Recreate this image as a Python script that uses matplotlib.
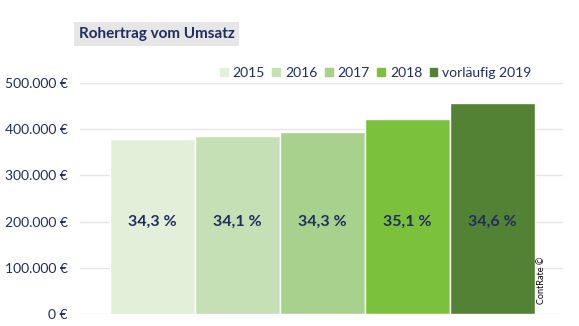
import matplotlib.pyplot as plt
from matplotlib.ticker import FuncFormatter

plt.rcParams['font.family'] = ['Lato', 'DejaVu Sans']

years = ['2015', '2016', '2017', '2018', 'vorläufig 2019']
rohertrag = [378000, 385000, 394000, 422000, 457000]
quote = ['34,3 %', '34,1 %', '34,3 %', '35,1 %', '34,6 %']
colors = ['#e2f0d9', '#c5e0b4', '#a9d18e', '#7cc13b', '#548235']
navy = '#1f2d5f'

fig = plt.figure(figsize=(5.79, 3.26), dpi=100)
ax = fig.add_axes([80 / 579, 12 / 326, 483 / 579, 231 / 326])

xs = range(len(years))
bars = ax.bar(xs, rohertrag, width=1.0, color=colors, edgecolor='white',
              linewidth=1.0, zorder=2)
for x, lab in zip(xs, quote):
    ax.text(x, 200000, lab, ha='center', va='center', fontsize=11.5,
            fontweight='bold', color=navy, zorder=3)

ax.set_xlim(-0.85, 4.83)
ax.set_ylim(0, 500000)
ax.set_yticks(range(0, 500001, 100000))
ax.yaxis.set_major_formatter(FuncFormatter(
    lambda v, p: f'{int(v):,} €'.replace(',', '.')))
ax.tick_params(axis='y', length=0, labelsize=10, labelcolor=navy, pad=9)
ax.set_xticks([])
ax.grid(axis='y', color='#e6e6e6', linewidth=1.0, zorder=0)
for s in ax.spines.values():
    s.set_visible(False)

handles = [plt.Rectangle((0, 0), 1, 1, color=c) for c in colors]
fig.legend(handles, years, loc='center right', bbox_to_anchor=(537 / 579, 1 - 73 / 326),
           ncol=5, frameon=False, fontsize=10, handlelength=0.55, handleheight=0.55,
           handletextpad=0.35, columnspacing=0.55, labelcolor=navy, borderaxespad=0)

fig.text(79 / 579, 1 - 34 / 326, 'Rohertrag vom Umsatz', ha='left', va='center',
         fontsize=11, fontweight='bold', color=navy,
         bbox=dict(boxstyle='square,pad=0.3', fc='#e7e6e6', ec='none'))

fig.text(541 / 579, 1 - 280 / 326, 'ContRate ©', rotation=90, ha='center',
         va='center', fontsize=6.5, color='black')

fig.savefig('out.png', dpi=100)
